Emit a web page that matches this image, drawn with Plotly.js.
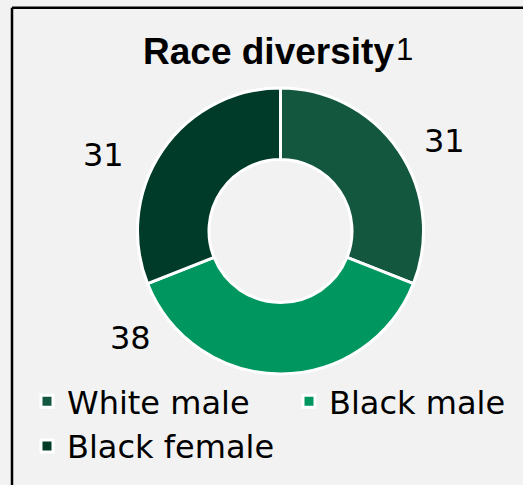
<!DOCTYPE html>
<html>
<head>
<meta charset="utf-8">
<script src="https://cdn.plot.ly/plotly-3.0.1.min.js"></script>
<style>
html,body{margin:0;padding:0;background:#f2f2f2;}
#chart{width:523px;height:485px;}
</style>
</head>
<body>
<div id="chart"></div>
<script>
var categories = ["White male", "Black male", "Black female"];
var values = [31, 38, 31];
var colors = ["#13573f", "#00965f", "#003a28"];
var titleText = "Race diversity";
var footnote = "1";

var W = 523, H = 485;
function px(x){ return x / W; }
function py(y){ return 1 - y / H; }

// outside label positions (px) for each slice
var labelPos = [[444, 141], [130, 338], [103, 155]];

var data = [{
  type: "pie",
  labels: categories,
  values: values,
  sort: false,
  direction: "clockwise",
  rotation: 0,
  hole: 0.5,
  textinfo: "none",
  hoverinfo: "label+value",
  marker: {colors: colors, line: {color: "#ffffff", width: 3}},
  domain: {x: [px(137.5), px(423.5)], y: [py(374), py(88)]}
}];

var annotations = values.map(function(v, i){
  return {
    text: String(v), showarrow: false,
    xref: "paper", yref: "paper",
    x: px(labelPos[i][0]), y: py(labelPos[i][1]),
    xanchor: "center", yanchor: "middle",
    font: {family: "DejaVu Sans", size: 32, color: "#000000"}
  };
});
annotations.push({
  text: footnote, showarrow: false,
  xref: "paper", yref: "paper",
  x: px(394), y: py(50), xanchor: "left", yanchor: "middle",
  font: {family: "Liberation Sans", size: 31, color: "#000000"}
});

var layout = {
  width: W, height: H,
  margin: {l: 0, r: 0, t: 0, b: 0, autoexpand: false},
  paper_bgcolor: "#f2f2f2",
  plot_bgcolor: "#f2f2f2",
  title: {
    text: "<b>" + titleText + "</b>",
    font: {family: "Liberation Sans", size: 37, color: "#000000"},
    x: px(268.5), xanchor: "center",
    y: py(51), yanchor: "middle", yref: "container"
  },
  showlegend: true,
  legend: {
    orientation: "h",
    x: px(27), xanchor: "left",
    y: py(374), yanchor: "top",
    entrywidth: 217, entrywidthmode: "pixels",
    font: {family: "DejaVu Sans", size: 32, color: "#000000"},
    bgcolor: "rgba(0,0,0,0)",
    traceorder: "normal"
  },
  annotations: annotations,
  shapes: [
    {type: "line", xref: "paper", yref: "paper", x0: px(12), x1: 1.05, y0: py(7.8), y1: py(7.8), line: {color: "#000000", width: 2.5}},
    {type: "line", xref: "paper", yref: "paper", x0: px(12), x1: px(12), y0: py(7.8), y1: -0.05, line: {color: "#000000", width: 2.5}}
  ]
};

Plotly.newPlot("chart", data, layout, {displayModeBar: false, staticPlot: true});
</script>
</body>
</html>
